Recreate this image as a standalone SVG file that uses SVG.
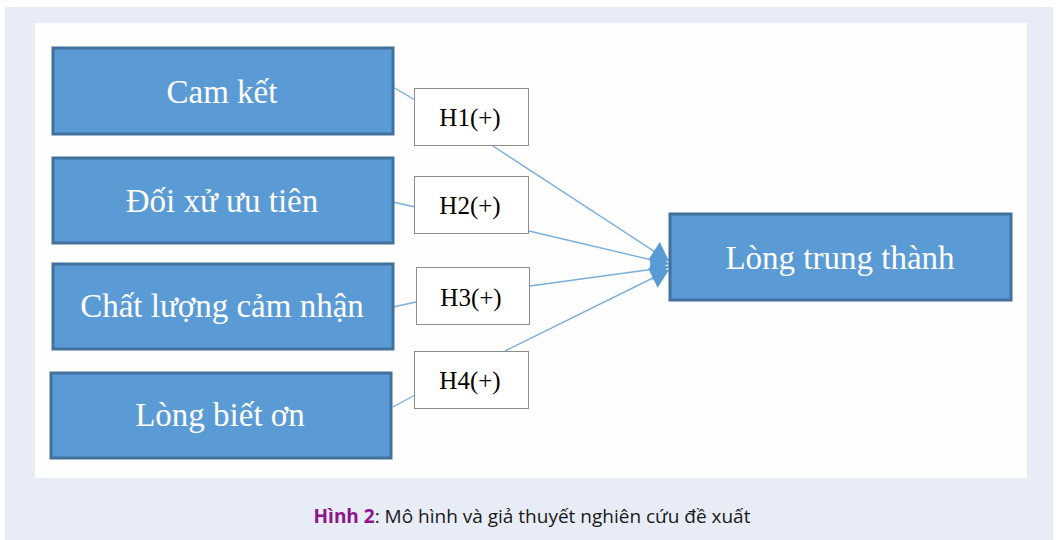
<svg xmlns="http://www.w3.org/2000/svg" width="1058" height="540" viewBox="0 0 1058 540">
<style>
.box{fill:#5b9bd5;stroke:#41719c;stroke-width:3}
.bt{font-family:"Liberation Serif",serif;font-size:33px;fill:#ffffff;text-anchor:middle}
.hb{fill:#ffffff;stroke:#8c8c8c;stroke-width:1}
.ht{font-family:"Liberation Serif",serif;font-size:25px;fill:#000000;text-anchor:middle}
.ln{stroke:#7aaedb;stroke-width:1.4;fill:none}
.cap{font-family:"Open Sans","Noto Sans",sans-serif;font-size:19px;fill:#1a1a1a}
</style>
<defs>
<marker id="arr" markerUnits="userSpaceOnUse" markerWidth="20" markerHeight="24" viewBox="0 0 16 20" refX="15" refY="10" orient="auto">
<path d="M0,1 L15,10 L0,19 Z" fill="#5b9bd5"/>
</marker>
</defs>
<rect x="5" y="7" width="1048" height="533" fill="#e8ecf6"/>
<rect x="35" y="23" width="992" height="455" fill="#fefefe"/>
<g id="connectors">
<line class="ln" x1="393" y1="87" x2="415" y2="100"/>
<line class="ln" x1="393" y1="202" x2="415" y2="207"/>
<line class="ln" x1="393" y1="307" x2="416" y2="302"/>
<line class="ln" x1="393" y1="407" x2="415" y2="395"/>
<line class="ln" x1="493" y1="146" x2="669" y2="261" marker-end="url(#arr)"/>
<line class="ln" x1="529" y1="231" x2="669" y2="264" marker-end="url(#arr)"/>
<line class="ln" x1="530" y1="286" x2="669" y2="267" marker-end="url(#arr)"/>
<line class="ln" x1="505" y1="351" x2="669" y2="270" marker-end="url(#arr)"/>
</g>
<g id="cam-ket"><rect class="box" x="53" y="48" width="340" height="86"/><text class="bt" x="222" y="103">Cam kết</text></g>
<g id="doi-xu"><rect class="box" x="53" y="158" width="340" height="85"/><text class="bt" x="222" y="212">Đối xử ưu tiên</text></g>
<g id="chat-luong"><rect class="box" x="53" y="264" width="340" height="85"/><text class="bt" x="222" y="317">Chất lượng cảm nhận</text></g>
<g id="long-biet-on"><rect class="box" x="51" y="373" width="340" height="85"/><text class="bt" x="220" y="426">Lòng biết ơn</text></g>
<g id="h1"><rect class="hb" x="414.5" y="88.5" width="114" height="57"/><text class="ht" x="470" y="126">H1(+)</text></g>
<g id="h2"><rect class="hb" x="414.5" y="176.5" width="114" height="57"/><text class="ht" x="470" y="214">H2(+)</text></g>
<g id="h3"><rect class="hb" x="416.5" y="267.5" width="113" height="57"/><text class="ht" x="471" y="306">H3(+)</text></g>
<g id="h4"><rect class="hb" x="414.5" y="351.5" width="114" height="57"/><text class="ht" x="470" y="389">H4(+)</text></g>
<g id="long-trung-thanh"><rect class="box" x="670" y="214" width="341" height="86"/><text class="bt" x="840" y="269">Lòng trung thành</text></g>
<text class="cap" x="532" y="523" text-anchor="middle"><tspan font-weight="bold" fill="#8b168b">Hình 2</tspan>: Mô hình và giả thuyết nghiên cứu đề xuất</text>
</svg>
